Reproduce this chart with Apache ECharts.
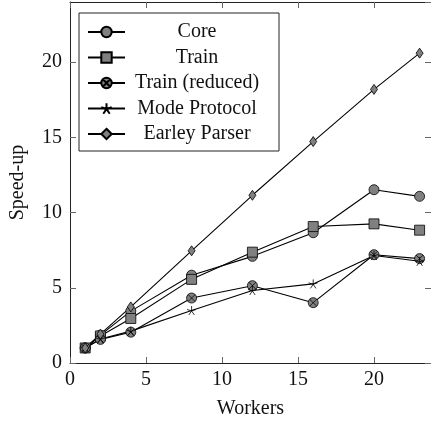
<!DOCTYPE html>
<html><head><meta charset="utf-8">
<script src="https://cdn.jsdelivr.net/npm/echarts@6/dist/echarts.min.js"></script>
<style>html,body{margin:0;padding:0;background:#fff}#c{width:431px;height:424px}</style>
</head><body><div id="c"></div>
<script>
const workers = [1, 2, 4, 8, 12, 16, 20, 23];
const seriesNames = ['Core', 'Train', 'Train (reduced)', 'Mode Protocol', 'Earley Parser'];
const core = [1.0, 1.85, 3.45, 5.84, 7.09, 8.66, 11.52, 11.08];
const train = [1.0, 1.8, 2.96, 5.56, 7.37, 9.07, 9.25, 8.83];
const trainReduced = [1.0, 1.57, 2.05, 4.32, 5.14, 4.01, 7.2, 6.94];
const modeProtocol = [1.0, 1.6, 2.12, 3.49, 4.82, 5.26, 7.15, 6.76];
const earleyParser = [1.0, 1.92, 3.73, 7.46, 11.15, 14.72, 18.19, 20.6];
const xTicks = [0, 5, 10, 15, 20];
const yTicks = [0, 5, 10, 15, 20];

const FONT = 'Liberation Serif';
const FS = 20;
const GRAY = '#808080';
const crossCircle = 'path://M10,0A10,10,0,1,1,-10,0A10,10,0,1,1,10,0Z M7.07,7.07L-7.07,-7.07M-7.07,7.07L7.07,-7.07';
const star = 'path://M0,-10L0,0M9.51,-3.09L0,0M5.88,8.09L0,0M-5.88,8.09L0,0M-9.51,-3.09L0,0';
const values = [core, train, trainReduced, modeProtocol, earleyParser];
const symbols = ['circle', 'rect', crossCircle, star, 'diamond'];
const sizes = [10, 10, 10, 9, [7, 10]];

const chart = echarts.init(document.getElementById('c'), null, {renderer: 'canvas'});
function axisCommon(extra) {
  return Object.assign({
    type: 'value', min: 0, interval: 5,
    axisLine: {show: true, onZero: false, lineStyle: {color: '#222', width: 1}},
    axisTick: {show: true, inside: true, length: 6, lineStyle: {color: '#666', width: 1}},
    splitLine: {show: false},
    axisLabel: {show: false}
  }, extra);
}
chart.setOption({
  animation: false,
  textStyle: {fontFamily: FONT},
  grid: {left: 67.7, right: 0, top: 2, bottom: 54.7, containLabel: false},
  xAxis: [
    axisCommon({max: 23.75, position: 'bottom', name: 'Workers', nameLocation: 'middle', nameGap: 36,
      nameTextStyle: {fontFamily: FONT, fontSize: FS, color: '#111'},
      axisLabel: {show: true, showMaxLabel: false, margin: 7, fontFamily: FONT, fontSize: FS, color: '#111',
        formatter: v => xTicks.includes(v) ? String(v) : ''}}),
    axisCommon({max: 23.75, position: 'top'})
  ],
  yAxis: [
    axisCommon({max: 24, position: 'left', name: 'Speed-up', nameLocation: 'middle', nameGap: 42,
      nameTextStyle: {fontFamily: FONT, fontSize: FS, color: '#111'},
      axisLabel: {show: true, showMaxLabel: false, margin: 8, fontFamily: FONT, fontSize: FS, color: '#111',
        formatter: v => yTicks.includes(v) ? String(v) : ''}}),
    axisCommon({max: 24, position: 'right'})
  ],
  legend: {
    orient: 'vertical', left: 79, top: 13, padding: [9, 15, 7, 8],
    borderColor: '#222', borderWidth: 1, backgroundColor: '#fff',
    itemWidth: 37, itemHeight: 13, itemGap: 5.5,
    data: seriesNames,
    formatter: n => '{a|' + n + '}',
    textStyle: {rich: {a: {width: 134, align: 'center', fontFamily: FONT, fontSize: FS, lineHeight: 20, color: '#111'}}}
  },
  series: seriesNames.map((name, i) => ({
    name, type: 'line', xAxisIndex: 0, yAxisIndex: 0,
    data: workers.map((w, j) => [w, values[i][j]]),
    symbol: symbols[i], symbolSize: sizes[i], showAllSymbol: true,
    lineStyle: {color: '#000', width: 1.1},
    itemStyle: {color: i === 3 ? 'none' : GRAY, borderColor: '#000', borderWidth: 0.8},
    emphasis: {disabled: true}
  }))
});
</script></body></html>
